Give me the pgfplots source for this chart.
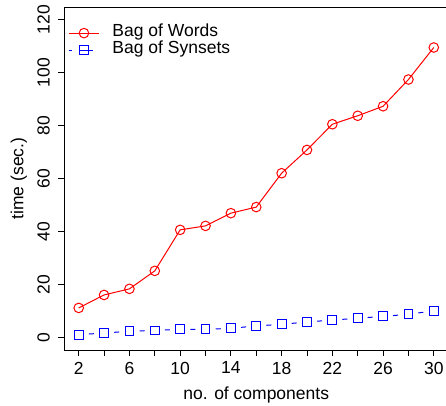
\documentclass[border=0pt]{standalone}
\usepackage{fontspec}
\setmainfont{Liberation Sans}
\usepackage{pgfplots}
\pgfplotsset{compat=1.18}

\begin{document}
\begin{tikzpicture}
\begin{axis}[
    scale only axis,
    width=383.5pt, height=343pt,
    xmin=0.88, xmax=31.12,
    ymin=-4.8, ymax=124.8,
    axis y line*=left,
    axis line style={line width=0.9pt},
    tick align=outside,
    xtick pos=bottom, ytick pos=left,
    major tick length=6pt,
    tick style={black, line width=0.9pt},
    xtick={2,4,...,30},
    xticklabels={2,,6,,10,,14,,18,,22,,26,,30},
    ytick={0,20,...,120},
    font=\fontsize{17.5}{21}\selectfont,
    /pgf/number format/assume math mode=true,
    xticklabel style={anchor=north, inner sep=0pt},
    xticklabel shift=5.7pt,
    yticklabel style={rotate=90, anchor=south, inner sep=0pt},
    yticklabel shift=8.5pt,
    xlabel={no. of components},
    ylabel={time (sec.)},
    xlabel style={at={(axis description cs:0.5,-0.145)}, anchor=base},
    ylabel style={at={(axis description cs:-0.1074,0.5)}, rotate=0, anchor=base},
    legend cell align=left,
    legend image code/.code={\draw[mark repeat=2,mark phase=2] plot coordinates {(0pt,0pt) (15pt,0pt) (30pt,0pt)};},
    legend style={draw=none, fill=none, at={(axis description cs:0.002,0.955)}, anchor=north west,
        row sep=0pt, nodes={inner sep=1pt, text height=11pt, text depth=4pt},
        /tikz/every odd column/.append style={column sep=12pt}},
]
\addplot[color=red, line width=1pt, mark=o, mark size=4.8pt, mark options={solid, fill=white}]
coordinates {
    (2,11.1) (4,16.0) (6,18.3) (8,25.1) (10,40.6) (12,42.1) (14,46.9) (16,49.2)
    (18,62.0) (20,70.8) (22,80.5) (24,83.7) (26,87.3) (28,97.4) (30,109.5)
};
\addlegendentry{Bag of Words}
\addplot[color=blue, line width=1pt, dash pattern=on 5pt off 20.4pt, dash phase=15.2pt,
    mark=square, mark size=4.4pt, mark options={solid, fill=white},
    legend image code/.code={\draw[dash pattern=on 3pt off 8pt on 13pt off 100pt, dash phase=0pt,
        mark repeat=2, mark phase=2, mark options={solid, fill=none}]
        plot coordinates {(0pt,0pt) (15pt,0pt) (30pt,0pt)};}]
coordinates {
    (2,1.0) (4,1.6) (6,2.3) (8,2.6) (10,3.0) (12,3.0) (14,3.4) (16,4.3)
    (18,4.9) (20,5.8) (22,6.5) (24,7.2) (26,7.9) (28,8.7) (30,10.0)
};
\addlegendentry{Bag of Synsets}
\end{axis}
\pgfresetboundingbox
\path[use as bounding box] (-64.5pt,-55pt) rectangle (381.5pt,350pt);
\end{tikzpicture}
\end{document}
